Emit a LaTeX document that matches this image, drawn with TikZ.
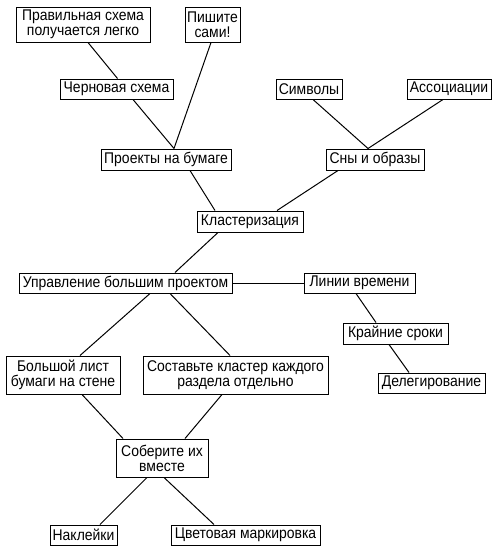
\documentclass[tikz,border=0pt]{standalone}
\usepackage{fontspec}
\setmainfont{Liberation Sans}[FakeStretch=0.9]
\usetikzlibrary{positioning}
\begin{document}
\begin{tikzpicture}[x=1pt,y=-1pt,
  bx/.style={draw,line width=1pt,inner sep=0pt,align=center,
    font=\fontsize{15.5}{15}\selectfont},
  ln/.style={line width=1pt}]
\useasboundingbox (0,0) rectangle (500,549);
\node[bx,minimum width=134,minimum height=35] (b1) at (83,24.5) {Правильная схема\\получается легко};
\node[bx,minimum width=55,minimum height=35] (b2) at (212.5,24.5) {Пишите\\сами!};
\node[bx,minimum width=113,minimum height=20] (b3) at (116.5,89) {Черновая схема};
\node[bx,minimum width=130,minimum height=21] (b4) at (166,159.5) {Проекты на бумаге};
\node[bx,minimum width=66,minimum height=20] (b5) at (309,89) {Символы};
\node[bx,minimum width=84,minimum height=20] (b6) at (449,89) {Ассоциации};
\node[bx,minimum width=98,minimum height=21] (b7) at (375,159.5) {Сны и образы};
\node[bx,minimum width=106,minimum height=21] (b8) at (250,221.5) {Кластеризация};
\node[bx,minimum width=213,minimum height=20] (b9) at (125.5,283) {Управление большим проектом};
\node[bx,minimum width=111,minimum height=20] (b10) at (359.5,283) {Линии времени};
\node[bx,minimum width=105,minimum height=21] (b11) at (395.5,333.5) {Крайние сроки};
\node[bx,minimum width=107,minimum height=20] (b12) at (431.5,383) {Делегирование};
\node[bx,minimum width=114,minimum height=38] (b13) at (63,375) {Большой лист\\бумаги на стене};
\node[bx,minimum width=185,minimum height=38] (b14) at (235.5,375) {Составьте кластер каждого\\раздела отдельно};
\node[bx,minimum width=92,minimum height=38] (b15) at (162,458) {Соберите их\\вместе};
\node[bx,minimum width=67,minimum height=20] (b16) at (83.5,535) {Наклейки};
\node[bx,minimum width=149,minimum height=20] (b17) at (245.5,535) {Цветовая маркировка};
\draw[ln] ([xshift=5]b1.south) -- ([xshift=1]b3.north);
\draw[ln] ([xshift=16.5]b3.south) -- ([xshift=8]b4.north);
\draw[ln] ([xshift=-1.5]b2.south) -- ([xshift=8]b4.north);
\draw[ln] ([xshift=24]b4.south) -- ([xshift=-35]b8.north);
\draw[ln] ([xshift=4]b5.south) -- ([xshift=-7]b7.north);
\draw[ln] ([xshift=-6]b6.south) -- ([xshift=-7]b7.north);
\draw[ln] ([xshift=-37]b7.south) -- ([xshift=27]b8.north);
\draw[ln] ([xshift=-32]b8.south) -- ([xshift=49.5]b9.north);
\draw[ln] (b9.east) -- (b10.west);
\draw[ln] ([xshift=-3.5]b10.south) -- ([xshift=-19.5]b11.north);
\draw[ln] ([xshift=-6.5]b11.south) -- ([xshift=-22.5]b12.north);
\draw[ln] ([xshift=24.5]b9.south) -- ([xshift=17]b13.north);
\draw[ln] ([xshift=44.5]b9.south) -- ([xshift=-5.5]b14.north);
\draw[ln] ([xshift=19]b13.south) -- ([xshift=-39]b15.north);
\draw[ln] ([xshift=-13.5]b14.south) -- ([xshift=23]b15.north);
\draw[ln] ([xshift=-15]b15.south) -- ([xshift=16.5]b16.north);
\draw[ln] ([xshift=2]b15.south) -- ([xshift=-31.5]b17.north);
\end{tikzpicture}
\end{document}
